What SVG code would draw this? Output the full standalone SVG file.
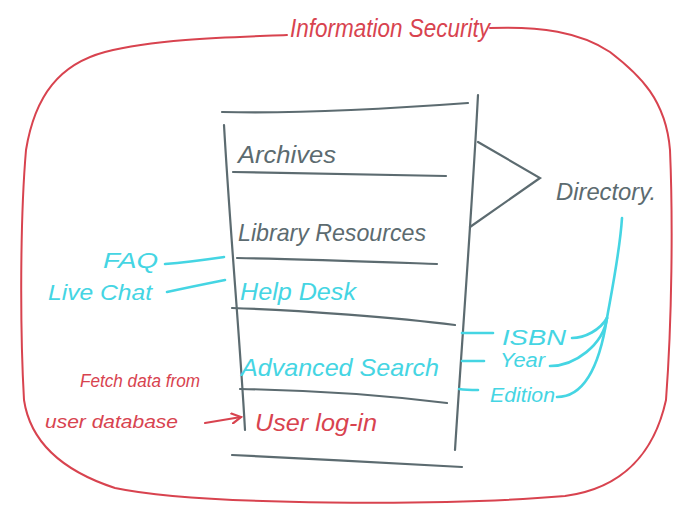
<svg xmlns="http://www.w3.org/2000/svg" width="678" height="511" viewBox="0 0 678 511">
<style>
.red{stroke:#d8434f;fill:none;stroke-width:2;stroke-linecap:round}
.cy{stroke:#45d5e3;fill:none;stroke-width:2.6;stroke-linecap:round}
.gr{stroke:#5c6b70;fill:none;stroke-width:2.2;stroke-linecap:round}
text{font-family:"Liberation Sans","DejaVu Sans",sans-serif;font-style:italic}
.tr{fill:#d8434f}
.tc{fill:#45d5e3}
.tg{fill:#5c6b70}
</style>
<defs>
<marker id="ah" markerWidth="12" markerHeight="12" refX="10" refY="6" orient="auto" markerUnits="userSpaceOnUse">
<path d="M1,1 L10,6 L1,11" fill="none" stroke="#d8434f" stroke-width="2.2" stroke-linecap="round"/>
</marker>
</defs>
<rect width="678" height="511" fill="#ffffff"/>

<g id="information-security">
<path class="red" d="M287,35 C240,37 160,38 105,52 C60,64 35,95 26,150 C20,220 20,330 24,400 C30,440 60,470 115,488 C200,506 450,506 565,496 C625,488 655,450 666,400 C672,320 673,220 670,150 C666,100 640,75 610,52 C580,32 540,26 490,28"/>
<text class="tr" x="290" y="37" font-size="25" textLength="200" lengthAdjust="spacingAndGlyphs">Information Security</text>
</g>

<g id="catalog-box">
<path class="gr" d="M222,112 C300,114 400,108 468,103"/>
<path class="gr" d="M224,125 C230,230 240,340 245,430"/>
<path class="gr" d="M478,95 C472,210 462,340 455,450"/>
<path class="gr" d="M232,455 C300,458 400,464 462,467"/>
</g>

<g id="archives">
<text class="tg" x="238" y="163" font-size="24" textLength="98" lengthAdjust="spacingAndGlyphs">Archives</text>
<path class="gr" d="M233,172 L446,176"/>
</g>

<g id="library-resources">
<text class="tg" x="238" y="241" font-size="24" textLength="188" lengthAdjust="spacingAndGlyphs">Library Resources</text>
<path class="gr" d="M237,258 C300,259 380,262 437,264"/>
</g>

<g id="help-desk">
<text class="tc" x="240" y="300" font-size="24" textLength="116" lengthAdjust="spacingAndGlyphs">Help Desk</text>
<path class="gr" d="M232,308 C300,310 400,318 455,325"/>
</g>

<g id="advanced-search">
<text class="tc" x="241" y="376" font-size="24" textLength="198" lengthAdjust="spacingAndGlyphs">Advanced Search</text>
<path class="gr" d="M240,389 C310,390 390,396 447,403"/>
</g>

<g id="user-login">
<text class="tr" x="255" y="431" font-size="24" textLength="122" lengthAdjust="spacingAndGlyphs">User log-in</text>
</g>

<g id="directory">
<text class="tg" x="556" y="200" font-size="24" textLength="100" lengthAdjust="spacingAndGlyphs">Directory.</text>
</g>

<g id="faq">
<text class="tc" x="103" y="268" font-size="22" textLength="55" lengthAdjust="spacingAndGlyphs">FAQ</text>
</g>
<g id="live-chat">
<text class="tc" x="48" y="300" font-size="22" textLength="104" lengthAdjust="spacingAndGlyphs">Live Chat</text>
</g>
<g id="fetch-data">
<text class="tr" x="80" y="387" font-size="18" textLength="120" lengthAdjust="spacingAndGlyphs">Fetch data from</text>
<text class="tr" x="45" y="428" font-size="18" textLength="133" lengthAdjust="spacingAndGlyphs">user database</text>
</g>
<g id="isbn">
<text class="tc" x="502" y="345" font-size="22" textLength="64" lengthAdjust="spacingAndGlyphs">ISBN</text>
</g>
<g id="year">
<text class="tc" x="500" y="367" font-size="20" textLength="45" lengthAdjust="spacingAndGlyphs">Year</text>
</g>
<g id="edition">
<text class="tc" x="490" y="402" font-size="20" textLength="65" lengthAdjust="spacingAndGlyphs">Edition</text>
</g>

<g id="connectors">
<path class="cy" d="M165,264 C190,262 210,259 224,257"/>
<path class="cy" d="M167,292 C190,287 210,283 225,280"/>
<path class="red" stroke-width="2.4" d="M205,423 L241,417" marker-end="url(#ah)"/>
<path class="gr" stroke-width="2.6" d="M478,142 L540,178 L470,227"/>
<path class="cy" stroke-width="2" d="M622,218 C620,250 612,290 607,318"/>
<path class="cy" stroke-width="2" d="M607,318 C600,330 585,338 572,338"/>
<path class="cy" stroke-width="2" d="M607,318 C603,345 575,366 550,366"/>
<path class="cy" stroke-width="2" d="M607,318 C602,350 590,397 557,397"/>
<path class="cy" stroke-width="3" d="M462,333 L493,333"/>
<path class="cy" stroke-width="3" d="M462,361 L484,361"/>
<path class="cy" stroke-width="3" d="M459,389 C466,390 472,390 478,390"/>
</g>
</svg>
